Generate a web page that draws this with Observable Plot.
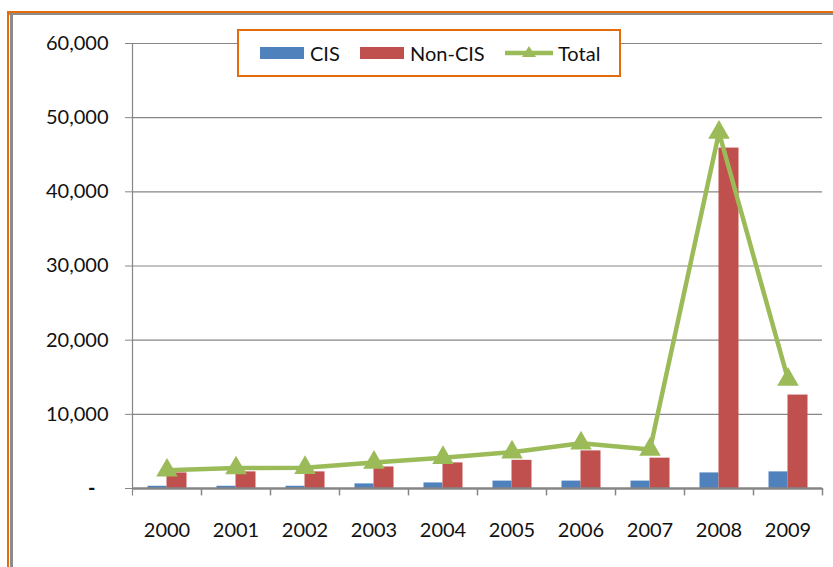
<!DOCTYPE html>
<html>
<head>
<meta charset="utf-8">
<script src="https://cdn.jsdelivr.net/npm/d3@7"></script>
<script src="https://cdn.jsdelivr.net/npm/@observablehq/plot@0.6"></script>
<style>
  html, body { margin: 0; padding: 0; background: #fff; }
  #wrap { position: relative; width: 833px; height: 567px; overflow: hidden; font-family: Lato, "Open Sans", sans-serif; }
  #frameTop { position: absolute; left: 7px; top: 11px; width: 840px; height: 2px; background: #E46C0A; }
  #frameTop2 { position: absolute; left: 9px; top: 13px; width: 840px; height: 1.5px; background: #8c8c8c; }
  #frameLeft { position: absolute; left: 7px; top: 11px; width: 2px; height: 600px; background: #E46C0A; }
  #frameLeft2 { position: absolute; left: 9.5px; top: 13px; width: 3px; height: 600px; background: #8c8c8c; }
  #legend { position: absolute; left: 237px; top: 29px; width: 380px; height: 44px; border: 2px solid #E46C0A; background: #fff; }
  .item { position: absolute; top: 0; height: 44px; display: flex; align-items: center; font-size: 20px; color: #111; }
  .sw { display: inline-block; width: 44px; height: 12px; margin-right: 6px; }
</style>
</head>
<body>
<div id="wrap">
  <div id="chart"></div>
  <div id="frameTop"></div>
  <div id="frameTop2"></div>
  <div id="frameLeft"></div>
  <div id="frameLeft2"></div>
  <div id="legend"></div>
</div>
<script>
const years = ["2000","2001","2002","2003","2004","2005","2006","2007","2008","2009"];
const cis = [300, 300, 300, 620, 750, 1000, 1000, 1000, 2100, 2240];
const nonCis = [2100, 2240, 2240, 2900, 3450, 3800, 5070, 4090, 45900, 12600];
const total = [2450, 2750, 2800, 3500, 4150, 4900, 6100, 5250, 48000, 14700];
const yTicks = [0, 10000, 20000, 30000, 40000, 50000, 60000];
const seriesNames = ["CIS", "Non-CIS", "Total"];
const colors = ["#4F81BD", "#C0504D", "#9BBB59"];

const rows = years.map((y, i) => ({year: y, cis: cis[i], nonCis: nonCis[i], total: total[i]}));
const fmt = d3.format(",");
const gray = "#868686";

const chart = Plot.plot({
  width: 833,
  height: 567,
  marginLeft: 132,
  marginRight: 11,
  marginTop: 43,
  marginBottom: 79,
  style: { fontFamily: "Lato, 'Open Sans', sans-serif", background: "#fff", color: "#111" },
  x: { domain: years, padding: 0, label: null },
  y: { domain: [0, 60000], label: null },
  marks: [
    Plot.ruleY(yTicks.filter(d => d > 0), { stroke: gray, strokeWidth: 1.2, strokeOpacity: 1 }),
    Plot.axisY(yTicks.filter(d => d > 0), { tickSize: 7, tickPadding: 17, fontSize: 20, stroke: gray, strokeOpacity: 1, tickFormat: d => fmt(d), label: null }),
    Plot.axisY([0], { tickSize: 7, tickPadding: 30, fontSize: 20, fontWeight: "bold", stroke: gray, strokeOpacity: 1, tickFormat: () => "-", label: null }),
    Plot.barY(rows, { x: "year", y: "cis", fill: colors[0], insetLeft: 15.5, insetRight: 34.5 }),
    Plot.barY(rows, { x: "year", y: "nonCis", fill: colors[1], insetLeft: 34.5, insetRight: 14.5 }),
    Plot.ruleX([years[0]], { x: d => d, dx: -34.5, y1: -1000, y2: 60000, stroke: gray, strokeWidth: 1.2 }),
    Plot.ruleY([0], { stroke: gray, strokeWidth: 2.5 }),
    Plot.ruleX(years.slice(1), { x: d => d, dx: -34.5, y1: 0, y2: -1000, stroke: gray, strokeWidth: 1.5 }),
    Plot.ruleX([years[years.length - 1]], { x: d => d, dx: 34.5, y1: 0, y2: -1000, stroke: gray, strokeWidth: 1.5 }),
    Plot.axisX({ tickSize: 0, tickPadding: 34, fontSize: 20, label: null }),
    Plot.line(rows, { x: "year", y: "total", stroke: colors[2], strokeWidth: 4.5, curve: "linear" }),
    Plot.dot(rows, { x: "year", y: "total", symbol: "triangle", r: 8, fill: colors[2], stroke: "none" })
  ]
});
document.getElementById("chart").appendChild(chart);

// legend
const legend = document.getElementById("legend");
const lefts = [21, 121, 266];
seriesNames.forEach((name, i) => {
  const it = document.createElement("div");
  it.className = "item";
  it.style.left = lefts[i] + "px";
  if (i < 2) {
    it.innerHTML = `<span class="sw" style="background:${colors[i]}"></span><span>${name}</span>`;
  } else {
    it.innerHTML = `<svg width="48" height="20" style="margin-right:5px"><line x1="0" x2="48" y1="10" y2="10" stroke="${colors[2]}" stroke-width="4.5"/><path d="M24,3 L31,14 L17,14 Z" fill="${colors[2]}"/></svg><span>${name}</span>`;
  }
  legend.appendChild(it);
});
</script>
</body>
</html>
